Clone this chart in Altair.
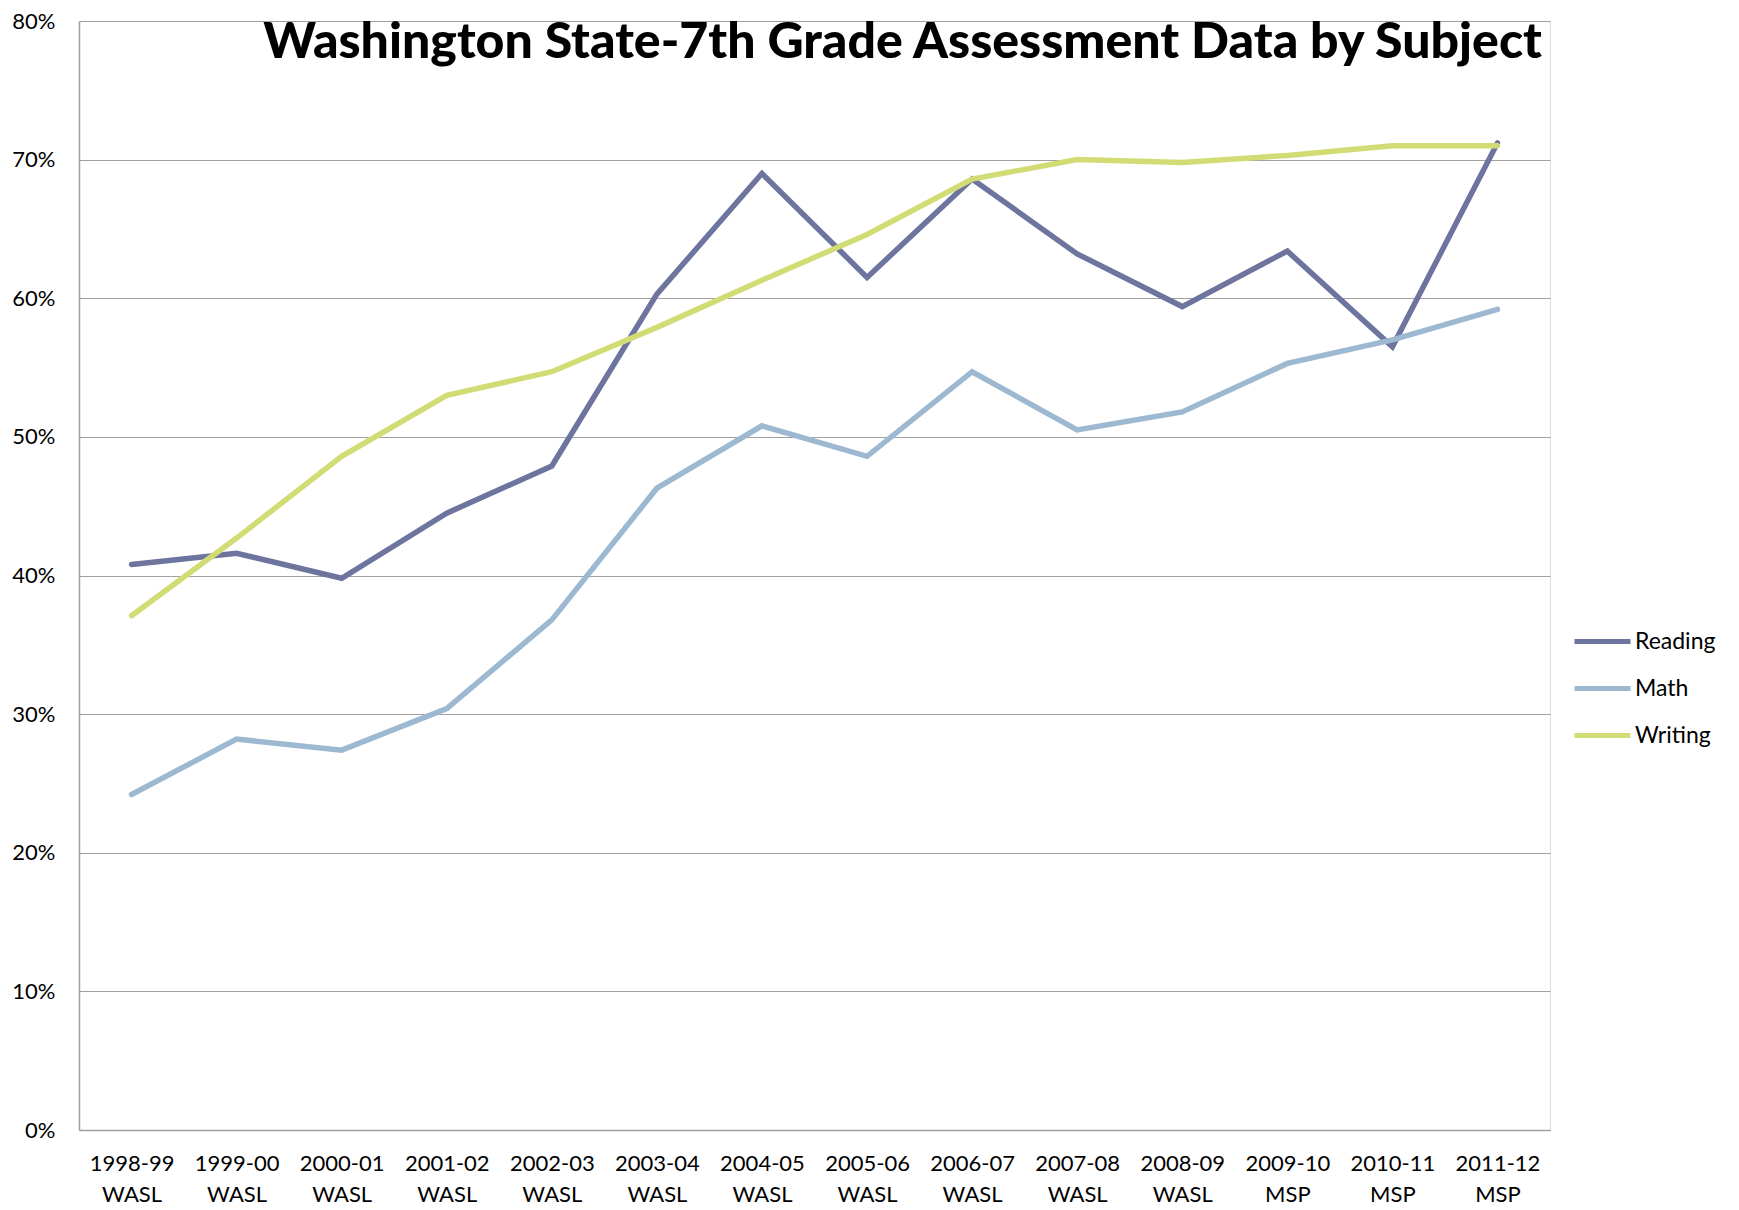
import altair as alt
import pandas as pd

years = ["1998-99", "1999-00", "2000-01", "2001-02", "2002-03", "2003-04", "2004-05",
         "2005-06", "2006-07", "2007-08", "2008-09", "2009-10", "2010-11", "2011-12"]
tests = ["WASL", "WASL", "WASL", "WASL", "WASL", "WASL", "WASL",
         "WASL", "WASL", "WASL", "WASL", "MSP", "MSP", "MSP"]

reading = [40.8, 41.6, 39.8, 44.5, 47.9, 60.3, 69.0, 61.5, 68.6, 63.2, 59.4, 63.4, 56.5, 71.2]
math = [24.2, 28.2, 27.4, 30.4, 36.8, 46.3, 50.8, 48.6, 54.7, 50.5, 51.8, 55.3, 57.0, 59.2]
writing = [37.1, 42.7, 48.6, 53.0, 54.7, 57.9, 61.3, 64.6, 68.6, 70.0, 69.8, 70.3, 71.0, 71.0]

subjects = ["Reading", "Math", "Writing"]
colors = ["#6D759E", "#9DB9D1", "#D1DC74"]

categories = [f"{y} {t}" for y, t in zip(years, tests)]

rows = []
for subj, vals in zip(subjects, [reading, math, writing]):
    for c, v in zip(categories, vals):
        rows.append({"period": c, "subject": subj, "value": v / 100.0})
df = pd.DataFrame(rows)

FONT = "Lato"

chart = alt.Chart(df).mark_line(strokeWidth=5.5, strokeCap="round").encode(
    x=alt.X("period:N", sort=categories, title=None,
            axis=alt.Axis(labelAngle=0, labelExpr="split(datum.label, ' ')",
                          labelFont=FONT, labelFontSize=22, labelColor="#000",
                          labelLineHeight=31, labelPadding=23, ticks=False,
                          domainColor="#a0a0a0", domainWidth=1.5, grid=False,
                          labelBaseline="top")),
    y=alt.Y("value:Q", title=None,
            scale=alt.Scale(domain=[0, 0.8], nice=False),
            axis=alt.Axis(format=".0%", values=[0, 0.1, 0.2, 0.3, 0.4, 0.5, 0.6, 0.7, 0.8],
                          labelFont=FONT, labelFontSize=22, labelColor="#000",
                          labelPadding=24, ticks=False, domainColor="#a0a0a0",
                          domainWidth=1.5, gridColor="#a0a0a0", gridWidth=1.2)),
    color=alt.Color("subject:N", sort=subjects,
                    scale=alt.Scale(domain=subjects, range=colors),
                    legend=alt.Legend(title=None, orient="none", legendX=1493, legendY=590,
                                      symbolType="stroke", symbolSize=3136,
                                      symbolStrokeWidth=5, labelFont=FONT,
                                      labelFontSize=23, labelColor="#000",
                                      labelOffset=2, rowPadding=4, padding=0)),
).properties(
    width=1471,
    height=1109,
    title=alt.TitleParams(
        "Washington State-7th Grade Assessment Data by Subject",
        anchor="end", frame="group", font=FONT, fontSize=50, fontWeight=900,
        color="#000", baseline="alphabetic", offset=-37, dx=-8, dy=61,
    ),
).configure_view(stroke=None).configure(padding={"left": 3, "top": 2, "right": 5, "bottom": 0})

chart.save("out.html", embed_options={"renderer": "svg", "actions": False})
